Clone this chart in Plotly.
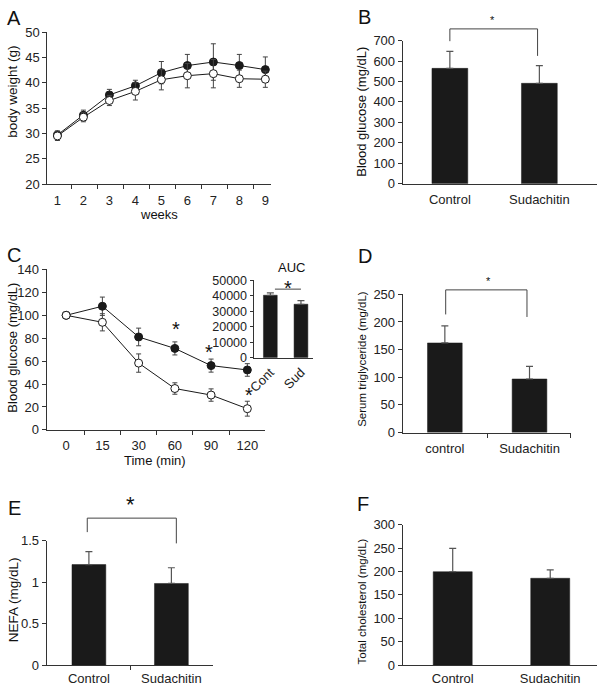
import plotly.graph_objects as go

FONT = "Liberation Sans, Arial, sans-serif"
W, H = 600, 689
INK = "#1a1a1a"
AX = "#333333"
TF = 13  # tick font size

# ---------------- data ----------------
# A: body weight
weeks = [1, 2, 3, 4, 5, 6, 7, 8, 9]
bw_ctrl = [29.7, 33.6, 37.6, 39.4, 42.0, 43.4, 44.1, 43.4, 42.6]
bw_ctrl_err = [0.8, 1.0, 1.1, 1.1, 2.2, 2.2, 3.6, 2.2, 2.5]
bw_sud = [29.5, 33.2, 36.5, 38.3, 40.6, 41.4, 41.8, 40.8, 40.7]
bw_sud_err = [0.9, 0.9, 1.0, 1.7, 2.0, 2.4, 2.8, 1.7, 1.6]

# B: blood glucose
groups = ["Control", "Sudachitin"]
glucose = [564, 491]
glucose_err = [83, 86]

# C: insulin tolerance
itt_times = ["0", "15", "30", "60", "90", "120"]
itt_ctrl = [100, 107.9, 81.1, 71.1, 56.1, 52.3]
itt_ctrl_err = [0, 8.0, 7.7, 5.7, 5.7, 5.5]
itt_sud = [100, 93.9, 58.3, 36.1, 30.4, 18.5]
itt_sud_err = [0, 7.5, 8.0, 5.0, 5.4, 6.5]
auc_groups = ["Cont", "Sud"]
auc = [40300, 34500]
auc_err = [1500, 2300]
auc_ticks = [0, 10000, 20000, 30000, 40000, 50000]

# D: serum triglyceride
tg_groups = ["control", "Sudachitin"]
tg = [162, 96.8]
tg_err = [31, 23]

# E: NEFA
nefa = [1.213, 0.985]
nefa_err = [0.157, 0.19]

# F: total cholesterol
tc = [199.6, 185.6]
tc_err = [50, 18]

# ---------------- layout geometry (pixels) ----------------
def fx(p):
    return p / W

def fy(p):
    return 1 - p / H

DOM = {
    "A": ((41.7, 268), (181, 25.7)),
    "B": ((400.7, 596.7), (180.7, 34.3)),
    "C": ((41, 261.7), (432.3, 268.3)),
    "I": ((250, 310), (358.5, 279.3)),
    "D": ((400.7, 570.7), (435, 293.7)),
    "E": ((41, 209.3), (672.7, 545.7)),
    "F": ((400.7, 596.7), (672.7, 529.3)),
}

def xd(k):
    a, b = DOM[k][0]
    return [fx(a), fx(b)]

def yd(k):
    a, b = DOM[k][1]
    return [fy(a), fy(b)]

RANGES = {
    "A": ([0.61, 9.23], [20, 50]),
    "B": ([-0.527, 1.641], [0, 700]),
    "C": ([-0.54, 5.49], [0, 140]),
    "I": ([-0.55, 1.39], [0, 50000]),
    "D": ([-0.498, 1.49], [0, 250]),
    "E": ([-0.513, 1.507], [0, 1.5]),
    "F": ([-0.513, 1.477], [0, 300]),
}

def ypaper(k, v):
    d = yd(k)
    r = RANGES[k][1]
    return d[0] + (v - r[0]) / (r[1] - r[0]) * (d[1] - d[0])

fig = go.Figure()

# ---------------- traces ----------------
fig.add_trace(go.Scatter(
    x=weeks, y=bw_ctrl, mode="lines+markers", xaxis="x", yaxis="y",
    line=dict(color=INK, width=1),
    marker=dict(size=8, color=INK, line=dict(color=INK, width=1)),
    error_y=dict(type="data", array=bw_ctrl_err, color="#444", thickness=1, width=2.5)))
fig.add_trace(go.Scatter(
    x=weeks, y=bw_sud, mode="lines+markers", xaxis="x", yaxis="y",
    line=dict(color=INK, width=1),
    marker=dict(size=8, color="white", line=dict(color=INK, width=1)),
    error_y=dict(type="data", array=bw_sud_err, color="#444", thickness=1, width=2.5)))

def bars(vals, errs, ax, width):
    return go.Bar(
        x=list(range(len(vals))), y=vals, width=width, xaxis="x" + ax, yaxis="y" + ax,
        marker=dict(color=INK, line=dict(color=INK, width=0.5)),
        error_y=dict(type="data", array=errs, arrayminus=[0] * len(errs), symmetric=False,
                     color="#555", thickness=1.2, width=3.5))

fig.add_trace(bars(glucose, glucose_err, "2", 0.4))

itt_x = list(range(len(itt_times)))
fig.add_trace(go.Scatter(
    x=itt_x, y=itt_ctrl, mode="lines+markers", xaxis="x3", yaxis="y3",
    line=dict(color=INK, width=1),
    marker=dict(size=8, color=INK, line=dict(color=INK, width=1)),
    error_y=dict(type="data", array=itt_ctrl_err, color="#444", thickness=1, width=2.5)))
fig.add_trace(go.Scatter(
    x=itt_x, y=itt_sud, mode="lines+markers", xaxis="x3", yaxis="y3",
    line=dict(color=INK, width=1),
    marker=dict(size=8, color="white", line=dict(color=INK, width=1)),
    error_y=dict(type="data", array=itt_sud_err, color="#444", thickness=1, width=2.5)))

fig.add_trace(bars(auc, auc_err, "4", 0.45))
fig.add_trace(bars(tg, tg_err, "5", 0.41))
fig.add_trace(bars(nefa, nefa_err, "6", 0.41))
fig.add_trace(bars(tc, tc_err, "7", 0.4))

# ---------------- axes ----------------
def axis_common(size=TF):
    return dict(showline=True, linecolor=AX, linewidth=1, showgrid=False, zeroline=False,
                ticks="outside", ticklen=4, tickcolor=AX, tickwidth=1,
                tickfont=dict(family=FONT, size=size, color="#222"))

lay = {}
# A
lay["xaxis"] = dict(axis_common(), domain=xd("A"), range=RANGES["A"][0], anchor="y",
                    tickvals=weeks, tickcolor="rgba(0,0,0,0)",
                    minor=dict(tickmode="array", tickvals=[1.55 + i for i in range(8)],
                               ticks="outside", ticklen=4, tickcolor=AX))
lay["yaxis"] = dict(axis_common(), domain=yd("A"), range=RANGES["A"][1], anchor="x",
                    tickvals=[20, 25, 30, 35, 40, 45, 50])
# B
lay["xaxis2"] = dict(axis_common(), domain=xd("B"), range=RANGES["B"][0], anchor="y2",
                     tickvals=[0, 1], ticktext=groups, tickcolor="rgba(0,0,0,0)")
lay["yaxis2"] = dict(axis_common(), domain=yd("B"), range=RANGES["B"][1], anchor="x2",
                     tickvals=list(range(0, 701, 100)))
# C
lay["xaxis3"] = dict(axis_common(), domain=xd("C"), range=RANGES["C"][0], anchor="y3",
                     tickvals=itt_x, ticktext=itt_times, tickcolor="rgba(0,0,0,0)",
                     minor=dict(tickmode="array", tickvals=[0.5 + i for i in range(5)],
                                ticks="outside", ticklen=4, tickcolor=AX))
lay["yaxis3"] = dict(axis_common(), domain=yd("C"), range=RANGES["C"][1], anchor="x3",
                     tickvals=list(range(0, 141, 20)))
# inset
lay["xaxis4"] = dict(axis_common(), domain=xd("I"), range=RANGES["I"][0], anchor="y4",
                     tickvals=[0, 1], ticktext=auc_groups, tickangle=-45,
                     tickcolor="rgba(0,0,0,0)", ticklen=1)
lay["yaxis4"] = dict(axis_common(12.5), domain=yd("I"), range=RANGES["I"][1], anchor="x4",
                     tickvals=auc_ticks, ticktext=[str(v) for v in auc_ticks], ticklen=3)
# D
lay["xaxis5"] = dict(axis_common(), domain=xd("D"), range=RANGES["D"][0], anchor="y5",
                     tickvals=[0, 1], ticktext=tg_groups, tickcolor="rgba(0,0,0,0)",
                     minor=dict(tickmode="array", tickvals=[0.5, 1.49], ticks="outside",
                                ticklen=4, tickcolor=AX))
lay["yaxis5"] = dict(axis_common(), domain=yd("D"), range=RANGES["D"][1], anchor="x5",
                     tickvals=list(range(0, 251, 50)))
# E
lay["xaxis6"] = dict(axis_common(), domain=xd("E"), range=RANGES["E"][0], anchor="y6",
                     tickvals=[0, 1], ticktext=groups, tickcolor="rgba(0,0,0,0)", ticklen=1,
                     minor=dict(tickmode="array", tickvals=[0.5], ticks="outside",
                                ticklen=4, tickcolor=AX))
lay["yaxis6"] = dict(axis_common(), domain=yd("E"), range=RANGES["E"][1], anchor="x6",
                     tickvals=[0, 0.5, 1, 1.5], ticktext=["0", "0.5", "1", "1.5"])
# F
lay["xaxis7"] = dict(axis_common(), domain=xd("F"), range=RANGES["F"][0], anchor="y7",
                     tickvals=[0, 1], ticktext=groups, tickcolor="rgba(0,0,0,0)", ticklen=1)
lay["yaxis7"] = dict(axis_common(), domain=yd("F"), range=RANGES["F"][1], anchor="x7",
                     tickvals=list(range(0, 301, 50)))

fig.update_layout(**lay)

# ---------------- annotations ----------------
ann = []

def text(x, y, s, size, angle=0, xref="paper", yref="paper", yshift=0):
    ann.append(dict(x=x, y=y, xref=xref, yref=yref, text=s, showarrow=False,
                    textangle=angle, xanchor="center", yanchor="middle", yshift=yshift,
                    font=dict(family=FONT, size=size, color="#111")))

# panel letters
for lab, (px, py) in {"A": (8.3, 11.7), "B": (361.7, 10.7), "C": (8.3, 253.3),
                      "D": (362.5, 254.2), "E": (8.3, 511.7), "F": (360.8, 508.3)}.items():
    text(fx(px), fy(py), lab, 20)

# axis titles
text(fx(7), fy(86.7), "body weight (g)", 13.5, -90)
text(fx(155), fy(212), "weeks", 13)
text(fx(359), fy(106.7), "Blood glucose (mg/dL)", 13, -90)
text(fx(7), fy(348.3), "Blood glucose (mg/dL)", 13, -90)
text(fx(151), fy(464), "Time (min)", 13)
text(fx(288.3), fy(266.7), "AUC", 13)
text(fx(359.3), fy(360), "Serum triglyceride (mg/dL)", 11.5, -90)
text(fx(7), fy(605.5), "NEFA (mg/dL)", 13.5, -90)
text(fx(359.3), fy(608), "Total cholesterol (mg/dL)", 11.5, -90)

# significance stars
def star(ax, k, x, yv, size):
    text(x, ypaper(k, yv), "*", size, xref="x" + ax, yshift=-0.23 * size)

star("2", "B", 0.48, 813, 11)
star("5", "D", 0.51, 279, 11)
star("6", "E", 0.51, 2.0, 22)
star("3", "C", 3.04, 92, 20)
star("3", "C", 3.93, 72, 20)
star("3", "C", 5.05, 34.7, 20)
star("4", "I", 0.58, 47700, 20)

# brackets
shapes = []

def seg(ax, x0, y0, x1, y1):
    shapes.append(dict(type="line", xref="x" + ax, yref="paper", x0=x0, x1=x1, y0=y0, y1=y1,
                       line=dict(color="#444", width=1)))

def bracket(ax, k, xl, xr, top, left_bot, right_bot):
    t = ypaper(k, top)
    seg(ax, xl, t, xr, t)
    seg(ax, xl, t, xl, ypaper(k, left_bot))
    seg(ax, xr, t, xr, ypaper(k, right_bot))

bracket("2", "B", 0.0, 0.98, 757, 697, 625)
bracket("5", "D", 0.01, 0.97, 258, 213.6, 209)
bracket("6", "E", -0.02, 1.06, 1.774, 1.605, 1.469)
t = ypaper("I", 44250)
seg("4", 0.15, t, 1.0, t)

fig.update_layout(
    annotations=ann, shapes=shapes,
    width=W, height=H, margin=dict(l=0, r=0, t=0, b=0),
    paper_bgcolor="white", plot_bgcolor="white", showlegend=False,
    font=dict(family=FONT, color="#222"),
)

fig.write_html("out.html", config={"staticPlot": True, "displayModeBar": False},
               post_script="document.body.style.margin='0';document.body.style.overflow='hidden';")
